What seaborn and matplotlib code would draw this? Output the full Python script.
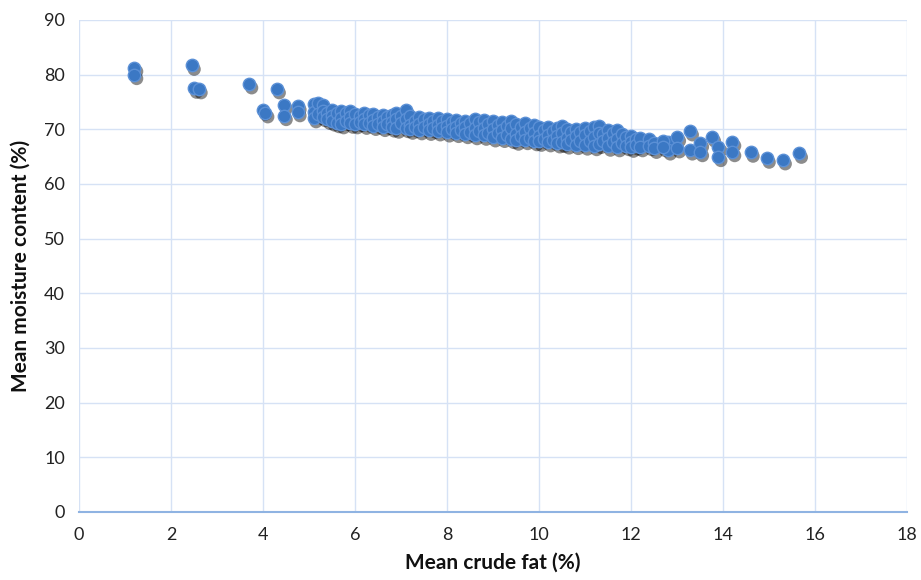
import matplotlib
matplotlib.use("Agg")
import matplotlib.pyplot as plt
import matplotlib.transforms as mtransforms
import seaborn as sns
import pandas as pd

# Sparse points (outside the dense band)
sparse_fat = [1.2, 1.2, 2.45, 2.5, 2.6, 3.7, 4.3, 4.0, 4.05, 4.45, 4.45, 4.75, 4.75,
              12.8, 12.8, 13.0, 13.0, 13.28, 13.28, 13.5, 13.5, 13.76, 13.9, 13.9,
              14.2, 14.2, 14.6, 14.95, 15.3, 15.65]
sparse_moist = [81.3, 80.0, 81.7, 77.5, 77.4, 78.3, 77.4, 73.5, 73.0, 74.5, 72.5, 74.3, 73.2,
                67.7, 66.2, 68.6, 66.6, 69.7, 66.2, 67.5, 65.9, 68.6, 66.8, 65.0,
                67.7, 65.9, 65.8, 64.7, 64.4, 65.6]

# Dense band: fat levels and moisture values observed at each level
band_fat = [5.1, 5.2, 5.3, 5.4, 5.5, 5.6, 5.7, 5.8, 5.9, 6.0, 6.1, 6.2, 6.3, 6.4, 6.5,
            6.6, 6.7, 6.8, 6.9, 7.0, 7.1, 7.2, 7.3, 7.4, 7.5, 7.6, 7.7, 7.8, 7.9, 8.0,
            8.1, 8.2, 8.3, 8.4, 8.5, 8.6, 8.7, 8.8, 8.9, 9.0, 9.1, 9.2, 9.3, 9.4, 9.5,
            9.6, 9.7, 9.8, 9.9, 10.0, 10.1, 10.2, 10.3, 10.4, 10.5, 10.6, 10.7, 10.8,
            10.9, 11.0, 11.1, 11.2, 11.3, 11.4, 11.5, 11.6, 11.7, 11.8, 11.9, 12.0,
            12.1, 12.2, 12.4, 12.5, 12.7]
band_moist = [
    [74.6, 73.2, 72.1], [74.8, 72.8], [74.5, 73.4, 72.3], [73.0, 71.8], [73.6, 72.4, 71.5],
    [72.9, 71.2], [73.4, 72.1, 71.0], [73.0, 71.6], [73.3, 72.2, 71.1], [72.8, 71.0],
    [72.4, 71.4], [73.0, 71.9, 70.9], [72.6, 71.2], [72.8, 71.7, 70.7], [72.2, 71.0],
    [72.7, 71.5, 70.5], [72.3, 70.9], [72.6, 71.3, 70.4], [73.0, 71.8, 70.2], [72.4, 71.1],
    [73.6, 71.9, 70.3], [72.5, 70.8, 70.0], [71.6, 70.4], [72.2, 71.0, 69.9], [71.8, 70.5],
    [72.1, 70.9, 69.8], [71.5, 70.2], [72.0, 70.8, 69.7], [71.6, 70.3], [71.9, 70.7, 69.5],
    [71.3, 70.0], [71.7, 70.5, 69.4], [71.2, 69.8], [71.6, 70.4, 69.2], [71.1, 69.6],
    [71.8, 70.2, 69.0], [71.4, 69.7], [71.7, 70.3, 68.9], [71.0, 69.4], [71.5, 70.1, 68.6],
    [70.8, 69.3], [71.4, 69.9, 68.5], [70.6, 69.0], [71.6, 70.3, 68.3], [71.0, 69.2, 68.0],
    [70.5, 68.7], [71.2, 69.6, 68.1], [70.3, 68.5], [70.8, 69.4, 67.9], [70.5, 68.8, 67.8],
    [69.9, 68.3], [70.4, 69.0, 67.7], [69.7, 68.1], [70.2, 68.8, 67.5], [70.6, 69.4, 67.6],
    [70.0, 68.5, 67.3], [69.6, 68.0], [70.1, 68.7, 67.2], [69.5, 67.8], [70.3, 68.9, 67.1],
    [69.7, 67.9], [70.4, 68.6, 67.0], [70.6, 69.3, 67.4], [69.2, 67.8], [69.8, 68.4, 66.9],
    [69.4, 67.6], [69.9, 68.2, 66.8], [69.1, 67.5], [68.6, 67.0], [68.8, 67.6, 66.7],
    [68.3, 67.1], [68.5, 66.8], [68.2, 67.0], [67.5, 66.5], [67.9, 66.8]]

x_ticks = list(range(0, 19, 2))
y_ticks = list(range(0, 91, 10))

fat, moist = list(sparse_fat), list(sparse_moist)
for f, ms in zip(band_fat, band_moist):
    for m in ms:
        fat.append(f)
        moist.append(m)
df = pd.DataFrame({"fat": fat, "moisture": moist})

sns.set_style("white")
plt.rcParams["font.family"] = ["Lato", "DejaVu Sans"]

fig = plt.figure(figsize=(9.21, 5.8), dpi=100)
ax = fig.add_axes([79 / 921, 1 - 512 / 580, (907 - 79) / 921, (512 - 20) / 580])

# drop shadow layer
sns.scatterplot(data=df, x="fat", y="moisture", ax=ax, s=90,
                color="black", edgecolor="none", linewidth=0, alpha=0.45, zorder=2)
shadow = ax.collections[-1]
shadow.set_offset_transform(ax.transData + mtransforms.ScaledTranslation(
    1.8 / 72, -2.8 / 72, fig.dpi_scale_trans))

# markers
sns.scatterplot(data=df, x="fat", y="moisture", ax=ax, s=80,
                color="#3b78c4", edgecolor="#5b90d6", linewidth=1.0, zorder=3)

ax.set_xlim(0, 18)
ax.set_ylim(0, 90)
ax.set_xticks(x_ticks)
ax.set_yticks(y_ticks)
ax.grid(True, color="#d6e2f5", linewidth=1.0, zorder=0)
ax.set_axisbelow(True)
for s in ["top", "right", "left"]:
    ax.spines[s].set_visible(False)
ax.spines["bottom"].set_color("#8fb3e2")
ax.spines["bottom"].set_linewidth(1.5)
ax.tick_params(axis="both", length=0, labelsize=13, colors="#222222")
ax.tick_params(axis="x", pad=11)
ax.tick_params(axis="y", pad=10)
ax.set_xlabel("Mean crude fat (%)", fontsize=15, fontweight="bold", labelpad=7, color="#111111")
ax.set_ylabel("Mean moisture content (%)", fontsize=15, fontweight="bold", labelpad=10, color="#111111")

fig.savefig("out.png", dpi=100)
